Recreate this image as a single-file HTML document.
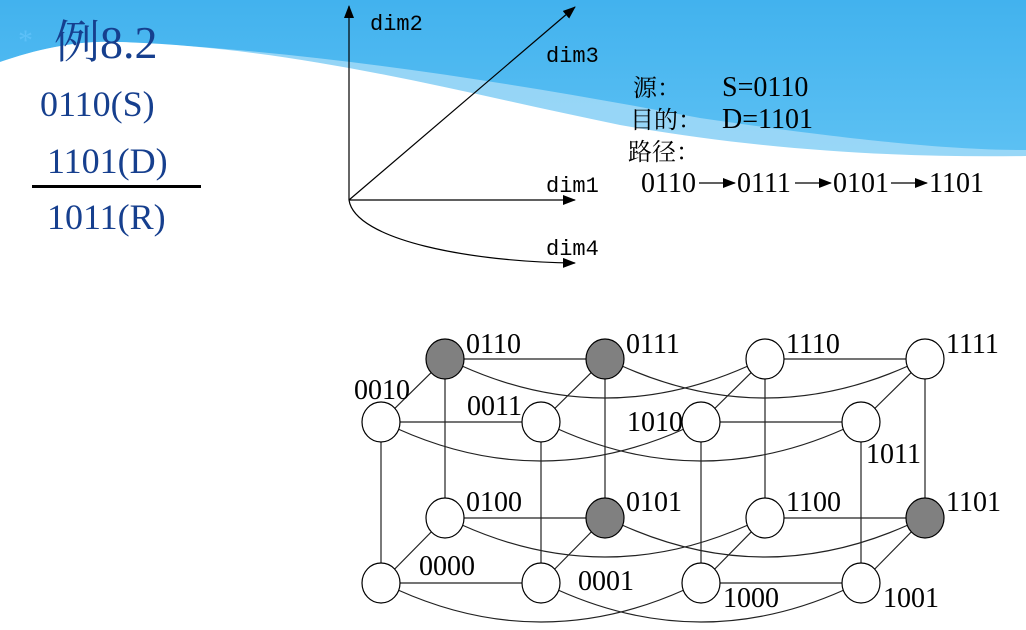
<!DOCTYPE html>
<html><head><meta charset="utf-8"><style>
html,body{margin:0;padding:0;background:#fff}
svg{display:block}
.s{font-family:"Liberation Serif","Noto Serif CJK SC",serif}
.m{font-family:"Liberation Mono",monospace}
</style></head><body>
<svg width="1026" height="630" viewBox="0 0 1026 630" xmlns="http://www.w3.org/2000/svg">
<defs>
<linearGradient id="g" x1="0" y1="0" x2="0" y2="1">
<stop offset="0" stop-color="#42b2ee"/><stop offset="1" stop-color="#5fc2f4"/>
</linearGradient>
<marker id="a" markerWidth="13" markerHeight="10" refX="12" refY="5" orient="auto" markerUnits="userSpaceOnUse">
<path d="M0,0 L13,5 L0,10 z" fill="#000"/></marker>
</defs>
<rect x="0" y="0" width="1026" height="170" fill="url(#g)"/>
<path d="M0,62 C40,48 80,40 120,42 C300,50 500,80 700,118 C850,140 950,150 1026,150 L1026,170 L0,170 z" fill="#a8dcf8" opacity="0.8"/>
<path d="M0,62 C40,48 80,40 120,42 C300,48 450,90 620,125 C760,150 900,158 1026,156 L1026,630 L0,630 z" fill="#fff"/>
<text x="18" y="50" font-size="30" fill="#5cc0f8" class="s">*</text>
<text x="54" y="58" font-size="46" fill="#163f8e" class="s">例8.2</text>
<g class="s" font-size="36" fill="#163f8e">
<text x="40" y="116">0110(S)</text>
<text x="47" y="173">1101(D)</text>
<text x="47" y="229">1011(R)</text>
</g>
<rect x="32" y="185" width="169" height="3" fill="#000"/>
<g stroke="#000" stroke-width="1.2" fill="none">
<line x1="349" y1="200" x2="349" y2="6" marker-end="url(#a)"/>
<line x1="349" y1="200" x2="575" y2="7" marker-end="url(#a)"/>
<line x1="349" y1="200" x2="575" y2="200" marker-end="url(#a)"/>
<path d="M349,200 C355,240 470,262 575,263" marker-end="url(#a)"/>
</g>
<g class="m" font-size="22" fill="#000">
<text x="370" y="30">dim2</text>
<text x="546" y="62">dim3</text>
<text x="546" y="192">dim1</text>
<text x="546" y="255">dim4</text>
</g>
<g class="s" font-size="24" fill="#000">
<text x="633" y="96">源：</text>
<text x="630" y="128">目的：</text>
<text x="628" y="160">路径：</text>
</g>
<g class="s" font-size="28" fill="#000">
<text x="722" y="96">S=0110</text>
<text x="722" y="128">D=1101</text>
<text x="641" y="192">0110</text><text x="737" y="192">0111</text><text x="833" y="192">0101</text><text x="929" y="192">1101</text>
</g>
<g stroke="#000" stroke-width="1.2" fill="none">
<line x1="699" y1="183" x2="735" y2="183" marker-end="url(#a)"/>
<line x1="795" y1="183" x2="831" y2="183" marker-end="url(#a)"/>
<line x1="891" y1="183" x2="927" y2="183" marker-end="url(#a)"/>
</g>
<g stroke="#222" stroke-width="1.2" fill="none">
<line x1="445" y1="359" x2="605" y2="359"/><line x1="765" y1="359" x2="925" y2="359"/>
<line x1="381" y1="422" x2="541" y2="422"/><line x1="701" y1="422" x2="861" y2="422"/>
<line x1="445" y1="518" x2="605" y2="518"/><line x1="765" y1="518" x2="925" y2="518"/>
<line x1="381" y1="583" x2="541" y2="583"/><line x1="701" y1="583" x2="861" y2="583"/>
<path d="M462,366 Q605,430 748,366"/><path d="M622,366 Q765,430 908,366"/>
<path d="M398,429 Q541,493 684,429"/><path d="M558,429 Q701,493 844,429"/>
<path d="M462,525 Q605,589 748,525"/><path d="M622,525 Q765,589 908,525"/>
<path d="M398,590 Q541,654 684,590"/><path d="M558,590 Q701,654 844,590"/>
<line x1="445" y1="359" x2="445" y2="518"/><line x1="605" y1="359" x2="605" y2="518"/>
<line x1="765" y1="359" x2="765" y2="518"/><line x1="925" y1="359" x2="925" y2="518"/>
<line x1="381" y1="422" x2="381" y2="583"/><line x1="541" y1="422" x2="541" y2="583"/>
<line x1="701" y1="422" x2="701" y2="583"/><line x1="861" y1="422" x2="861" y2="583"/>
<line x1="445" y1="359" x2="381" y2="422"/><line x1="605" y1="359" x2="541" y2="422"/>
<line x1="765" y1="359" x2="701" y2="422"/><line x1="925" y1="359" x2="861" y2="422"/>
<line x1="445" y1="518" x2="381" y2="583"/><line x1="605" y1="518" x2="541" y2="583"/>
<line x1="765" y1="518" x2="701" y2="583"/><line x1="925" y1="518" x2="861" y2="583"/>
</g>
<g stroke="#000" stroke-width="1.2">
<ellipse cx="445" cy="359" rx="19" ry="20" fill="#808080"/>
<ellipse cx="605" cy="359" rx="19" ry="20" fill="#808080"/>
<ellipse cx="765" cy="359" rx="19" ry="20" fill="#fff"/>
<ellipse cx="925" cy="359" rx="19" ry="20" fill="#fff"/>
<ellipse cx="381" cy="422" rx="19" ry="20" fill="#fff"/>
<ellipse cx="541" cy="422" rx="19" ry="20" fill="#fff"/>
<ellipse cx="701" cy="422" rx="19" ry="20" fill="#fff"/>
<ellipse cx="861" cy="422" rx="19" ry="20" fill="#fff"/>
<ellipse cx="445" cy="518" rx="19" ry="20" fill="#fff"/>
<ellipse cx="605" cy="518" rx="19" ry="20" fill="#808080"/>
<ellipse cx="765" cy="518" rx="19" ry="20" fill="#fff"/>
<ellipse cx="925" cy="518" rx="19" ry="20" fill="#808080"/>
<ellipse cx="381" cy="583" rx="19" ry="20" fill="#fff"/>
<ellipse cx="541" cy="583" rx="19" ry="20" fill="#fff"/>
<ellipse cx="701" cy="583" rx="19" ry="20" fill="#fff"/>
<ellipse cx="861" cy="583" rx="19" ry="20" fill="#fff"/>
</g>
<g class="s" font-size="28" fill="#000">
<text x="466" y="353">0110</text><text x="626" y="353">0111</text>
<text x="786" y="353">1110</text><text x="946" y="353">1111</text>
<text x="354" y="399">0010</text><text x="467" y="415">0011</text>
<text x="627" y="431">1010</text><text x="866" y="463">1011</text>
<text x="466" y="511">0100</text><text x="626" y="511">0101</text>
<text x="786" y="511">1100</text><text x="946" y="511">1101</text>
<text x="419" y="575">0000</text><text x="578" y="590">0001</text>
<text x="723" y="607">1000</text><text x="883" y="607">1001</text>
</g>
</svg>
</body></html>
